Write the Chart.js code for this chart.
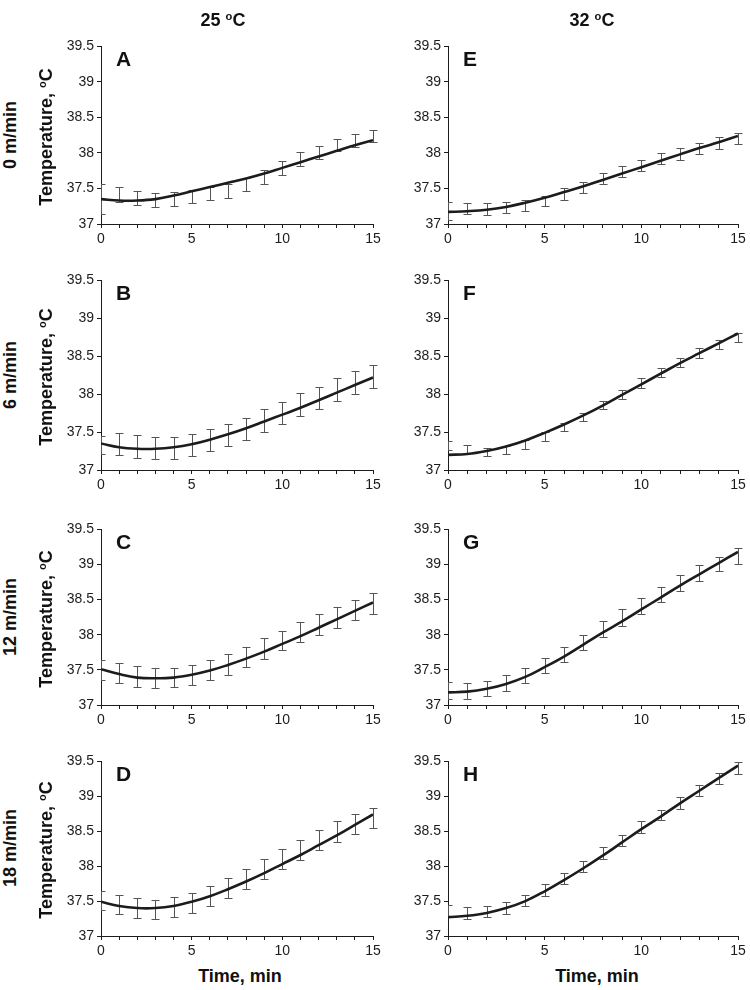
<!DOCTYPE html>
<html>
<head>
  <meta charset="UTF-8" />
  <title>Body temperature vs time</title>
  <script src="https://cdn.jsdelivr.net/npm/chart.js"></script>
  <style>
    body {
      margin: 0;
      background: #fff;
      font-family: 'Liberation Sans', Arial, sans-serif;
      color: #111;
    }
    #wrap {
      position: relative;
      width: 750px;
      height: 990px;
    }
    canvas {
      position: absolute;
    }
    .lbl {
      position: absolute;
      font-weight: bold;
      white-space: nowrap;
      line-height: 1;
    }
    .rot { transform: translate(-50%, -50%) rotate(-90deg); }
    .ctr { transform: translate(-50%, -50%); }
    .sup { font-size: 0.62em; vertical-align: 0.55em; }
  </style>
</head>
<body>
  <div id="wrap"></div>

  <script>
    const minutes = [0, 1, 2, 3, 4, 5, 6, 7, 8, 9, 10, 11, 12, 13, 14, 15];
    const yTicks = { min: 37, max: 39.5, step: 0.5 };
    const colTitles = ['25', '32'];
    const rowTitles = ['0 m/min', '6 m/min', '12 m/min', '18 m/min'];

    // 25 °C
    const fitA = [37.35, 37.33, 37.33, 37.35, 37.40, 37.46, 37.52, 37.58, 37.64, 37.71, 37.79, 37.87, 37.95, 38.03, 38.11, 38.18];
    const loA  = [37.14, 37.31, 37.27, 37.24, 37.26, 37.29, 37.34, 37.37, 37.46, 37.56, 37.69, 37.81, 37.92, 38.03, 38.09, 38.15];
    const hiA  = [37.57, 37.52, 37.46, 37.44, 37.45, 37.48, 37.52, 37.57, 37.65, 37.76, 37.88, 38.01, 38.10, 38.19, 38.26, 38.33];

    const fitB = [37.35, 37.30, 37.28, 37.28, 37.30, 37.34, 37.40, 37.47, 37.55, 37.64, 37.73, 37.82, 37.92, 38.02, 38.12, 38.22];
    const loB  = [37.21, 37.20, 37.16, 37.14, 37.14, 37.18, 37.25, 37.32, 37.39, 37.50, 37.61, 37.71, 37.80, 37.91, 38.00, 38.08];
    const hiB  = [37.45, 37.49, 37.46, 37.43, 37.44, 37.48, 37.54, 37.61, 37.69, 37.80, 37.90, 38.01, 38.10, 38.21, 38.30, 38.38];

    const fitC = [37.51, 37.44, 37.39, 37.38, 37.39, 37.43, 37.49, 37.57, 37.66, 37.76, 37.87, 37.98, 38.10, 38.22, 38.34, 38.46];
    const loC  = [37.35, 37.31, 37.26, 37.24, 37.25, 37.29, 37.35, 37.43, 37.54, 37.66, 37.78, 37.89, 38.00, 38.10, 38.21, 38.30];
    const hiC  = [37.64, 37.60, 37.56, 37.53, 37.53, 37.57, 37.64, 37.73, 37.83, 37.96, 38.06, 38.18, 38.29, 38.39, 38.50, 38.59];

    const fitD = [37.49, 37.43, 37.40, 37.40, 37.43, 37.49, 37.57, 37.67, 37.78, 37.90, 38.03, 38.16, 38.30, 38.44, 38.59, 38.74];
    const loD  = [37.37, 37.31, 37.26, 37.24, 37.27, 37.33, 37.43, 37.55, 37.67, 37.81, 37.96, 38.09, 38.23, 38.35, 38.46, 38.55];
    const hiD  = [37.64, 37.59, 37.54, 37.52, 37.56, 37.62, 37.71, 37.83, 37.96, 38.10, 38.25, 38.38, 38.52, 38.64, 38.74, 38.83];

    // 32 °C
    const fitE = [37.17, 37.18, 37.20, 37.24, 37.30, 37.37, 37.45, 37.53, 37.62, 37.71, 37.80, 37.89, 37.98, 38.07, 38.15, 38.24];
    const loE  = [37.05, 37.14, 37.13, 37.15, 37.19, 37.25, 37.34, 37.44, 37.57, 37.66, 37.74, 37.84, 37.90, 37.98, 38.06, 38.12];
    const hiE  = [37.31, 37.30, 37.29, 37.31, 37.34, 37.40, 37.50, 37.59, 37.72, 37.82, 37.90, 38.00, 38.07, 38.14, 38.22, 38.28];

    const fitF = [37.20, 37.21, 37.25, 37.31, 37.39, 37.49, 37.60, 37.72, 37.85, 37.99, 38.13, 38.27, 38.41, 38.54, 38.67, 38.80];
    const loF  = [37.27, 37.22, 37.19, 37.21, 37.28, 37.38, 37.51, 37.64, 37.80, 37.94, 38.08, 38.23, 38.36, 38.48, 38.60, 38.69];
    const hiF  = [37.38, 37.33, 37.29, 37.32, 37.39, 37.50, 37.62, 37.75, 37.91, 38.06, 38.21, 38.35, 38.48, 38.61, 38.71, 38.81];

    const fitG = [37.18, 37.19, 37.23, 37.30, 37.40, 37.54, 37.69, 37.86, 38.03, 38.19, 38.36, 38.53, 38.70, 38.86, 39.02, 39.18];
    const loG  = [37.09, 37.09, 37.13, 37.20, 37.31, 37.45, 37.61, 37.78, 37.97, 38.13, 38.29, 38.46, 38.62, 38.77, 38.91, 39.01];
    const hiG  = [37.33, 37.32, 37.34, 37.43, 37.53, 37.67, 37.83, 38.00, 38.19, 38.36, 38.53, 38.68, 38.85, 38.99, 39.11, 39.24];

    const fitH = [37.27, 37.29, 37.33, 37.40, 37.50, 37.64, 37.80, 37.97, 38.15, 38.34, 38.53, 38.71, 38.90, 39.08, 39.26, 39.44];
    const loH  = [37.27, 37.25, 37.27, 37.32, 37.43, 37.57, 37.74, 37.91, 38.10, 38.29, 38.48, 38.66, 38.82, 39.00, 39.17, 39.32];
    const hiH  = [37.45, 37.42, 37.43, 37.48, 37.59, 37.74, 37.90, 38.08, 38.27, 38.45, 38.65, 38.81, 38.99, 39.16, 39.33, 39.49];

    const panels = [
      { letter: 'A', col: 0, row: 0, fit: fitA, lo: loA, hi: hiA },
      { letter: 'B', col: 0, row: 1, fit: fitB, lo: loB, hi: hiB },
      { letter: 'C', col: 0, row: 2, fit: fitC, lo: loC, hi: hiC },
      { letter: 'D', col: 0, row: 3, fit: fitD, lo: loD, hi: hiD },
      { letter: 'E', col: 1, row: 0, fit: fitE, lo: loE, hi: hiE },
      { letter: 'F', col: 1, row: 1, fit: fitF, lo: loF, hi: hiF },
      { letter: 'G', col: 1, row: 2, fit: fitG, lo: loG, hi: hiG },
      { letter: 'H', col: 1, row: 3, fit: fitH, lo: loH, hi: hiH }
    ];

    // layout of the grid (pixels)
    const cols = [
      { left: 40, width: 345, axisW: 61, title: 223, xTitle: 240 },
      { left: 390, width: 360, axisW: 58, title: 592, xTitle: 597 }
    ];
    const rows = [
      { top: 45, bottom: 224 },
      { top: 279, bottom: 470 },
      { top: 528, bottom: 705 },
      { top: 760, bottom: 936 }
    ];
    const PAD_TOP = 10, PAD_RIGHT = 12, X_AXIS_H = 26;
    const ink = '#1c1c1c';
    const tickFont = { family: "'Liberation Sans', Arial, sans-serif", size: 14 };

    const wrap = document.getElementById('wrap');

    function addLabel(html, x, y, size, cls) {
      const d = document.createElement('div');
      d.className = 'lbl ' + cls;
      d.style.left = x + 'px';
      d.style.top = y + 'px';
      d.style.fontSize = size + 'px';
      d.innerHTML = html;
      wrap.appendChild(d);
    }

    function errorBars(lo, hi) {
      return {
        id: 'errorBars',
        beforeDatasetsDraw(chart) {
          const { ctx, chartArea, scales: { x, y } } = chart;
          ctx.save();
          ctx.beginPath();
          ctx.rect(chartArea.left, 0, chart.width - chartArea.left, chart.height);
          ctx.clip();
          ctx.strokeStyle = '#555';
          ctx.lineWidth = 1;
          minutes.forEach((m, i) => {
            const px = Math.round(x.getPixelForValue(m)) + 0.5;
            const yl = Math.round(y.getPixelForValue(lo[i])) + 0.5;
            const yh = Math.round(y.getPixelForValue(hi[i])) + 0.5;
            ctx.beginPath();
            ctx.moveTo(px, yl); ctx.lineTo(px, yh);
            ctx.moveTo(px - 4, yh); ctx.lineTo(px + 4, yh);
            ctx.moveTo(px - 4, yl); ctx.lineTo(px + 4, yl);
            ctx.stroke();
          });
          ctx.restore();
        }
      };
    }

    panels.forEach(p => {
      const c = cols[p.col], r = rows[p.row];
      const cv = document.createElement('canvas');
      const h = PAD_TOP + (r.bottom - r.top) + X_AXIS_H;
      cv.width = c.width;
      cv.height = h;
      cv.style.left = c.left + 'px';
      cv.style.top = (r.top - PAD_TOP) + 'px';
      wrap.appendChild(cv);

      new Chart(cv, {
        type: 'line',
        data: {
          datasets: [{
            data: minutes.map((m, i) => ({ x: m, y: p.fit[i] })),
            borderColor: ink,
            borderWidth: 2.6,
            pointRadius: 0,
            tension: 0.4,
            fill: false
          }]
        },
        options: {
          responsive: false,
          animation: false,
          events: [],
          layout: { padding: { top: PAD_TOP, right: PAD_RIGHT, left: 0, bottom: 0 } },
          plugins: { legend: { display: false }, tooltip: { enabled: false } },
          scales: {
            x: {
              type: 'linear',
              min: 0,
              max: 15,
              afterFit: s => { s.height = X_AXIS_H; },
              ticks: {
                stepSize: 1,
                autoSkip: false,
                maxRotation: 0,
                padding: 3,
                color: ink,
                font: tickFont,
                callback: v => (v % 5 === 0 ? v : '')
              },
              grid: { drawOnChartArea: false, tickLength: 4, color: ink },
              border: { color: ink, width: 1 }
            },
            y: {
              min: yTicks.min,
              max: yTicks.max,
              afterFit: s => { s.width = c.axisW; },
              ticks: {
                stepSize: yTicks.step,
                padding: 3,
                color: ink,
                font: tickFont,
                callback: v => String(Math.round(v * 10) / 10)
              },
              grid: { drawOnChartArea: false, tickLength: 4, color: ink },
              border: { color: ink, width: 1 }
            }
          }
        },
        plugins: [errorBars(p.lo, p.hi)]
      });

      const chartLeft = c.left + c.axisW;
      addLabel(p.letter, chartLeft + 15, r.top + 3, 21, '');
    });

    colTitles.forEach((t, i) => {
      addLabel(t + ' <span class="sup">o</span>C', cols[i].title, 20, 18, 'ctr');
      addLabel('Time, min', cols[i].xTitle, 976, 18, 'ctr');
    });

    rowTitles.forEach((t, i) => {
      const cy = (rows[i].top + rows[i].bottom) / 2;
      addLabel(t, 10, cy, 18, 'rot');
      addLabel('Temperature, <span class="sup">o</span>C', 46, cy + 2, 18, 'rot');
    });
  </script>
</body>
</html>
